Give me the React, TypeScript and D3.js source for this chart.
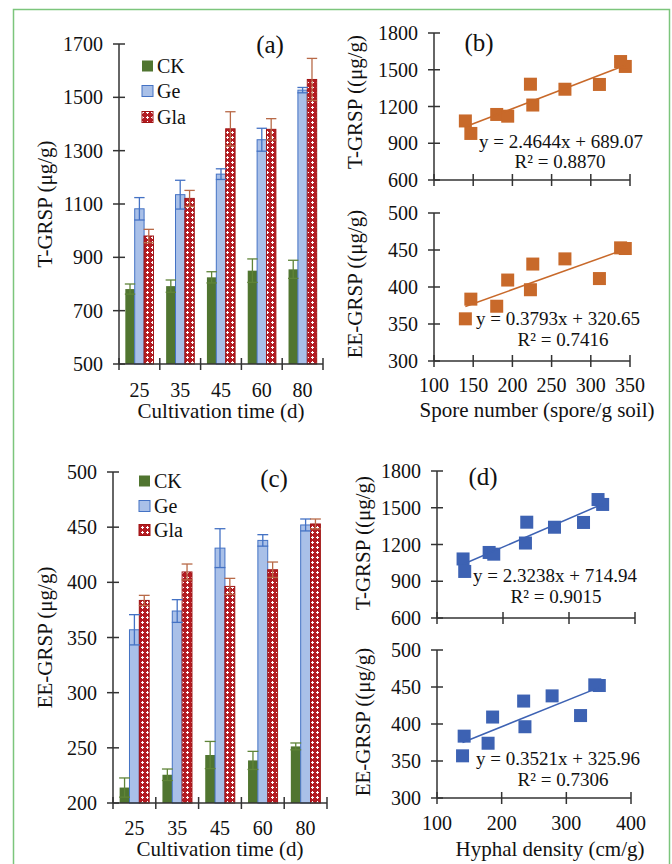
import React from 'react';
import * as d3 from 'd3';

// cultivation days and treatments
const days = ['25', '35', '45', '60', '80'];
const treatments = ['CK', 'Ge', 'Gla'];

// T-GRSP (ug/g) bars + error
const tCK = [781, 792, 825, 850, 855];
const tCKErr = [19, 23, 21, 44, 34];
const tGe = [1082, 1135, 1212, 1341, 1527];
const tGeErr = [42, 54, 20, 43, 10];
const tGla = [980, 1121, 1382, 1380, 1567];
const tGlaErr = [25, 30, 64, 40, 79];

// EE-GRSP (ug/g) bars + error
const eCK = [214, 225.6, 243.5, 238.6, 251.3];
const eCKErr = [8.7, 5.2, 12.3, 8.2, 3.1];
const eGe = [357, 374, 431, 438, 452];
const eGeErr = [13.7, 10.3, 17.6, 5.2, 5.4];
const eGla = [383.6, 409.4, 396.3, 411.4, 452.9];
const eGlaErr = [4.6, 7.2, 7.3, 7, 4.5];

// x values of the scatter points (Ge and Gla per day)
const sporeGe = [140, 180, 226, 267, 344];
const sporeGla = [147, 194, 223, 311, 338];
const hyphaGe = [139.5, 179, 234, 278, 351];
const hyphaGla = [142, 186, 236, 322, 344];

// tick labels
const tTicksBar = [500, 700, 900, 1100, 1300, 1500, 1700];
const eTicksBar = [200, 250, 300, 350, 400, 450, 500];
const tTicksSc = [600, 900, 1200, 1500, 1800];
const eTicksSc = [300, 350, 400, 450, 500];
const sporeTicks = [100, 150, 200, 250, 300, 350];
const hyphaTicks = [100, 200, 300, 400];

// regression fits
const fitSporeT = { a: 2.4644, b: 689.07, eq: 'y = 2.4644x + 689.07', r2: 'R² = 0.8870' };
const fitSporeE = { a: 0.3793, b: 320.65, eq: 'y = 0.3793x + 320.65', r2: 'R² = 0.7416' };
const fitHyphaT = { a: 2.3238, b: 714.94, eq: 'y = 2.3238x + 714.94', r2: 'R² = 0.9015' };
const fitHyphaE = { a: 0.3521, b: 325.96, eq: 'y = 0.3521x + 325.96', r2: 'R² = 0.7306' };

const FONT = '"Liberation Serif", "Times New Roman", serif';
const AX = '#333';
const fills = ['#507530', '#a9c0e8', 'url(#glaPat)'];
const strokes = ['#507530', '#4472c4', '#a01414'];
const errColors = ['#5f8438', '#4472c4', '#b86a48'];

function BarPanel({ x0, x1, yTop, yBot, domain, ticks, vals, errs, yLabel, yLabelX, panel, panelPos, legendX, legendY, tickY, titleY }) {
  const x = d3.scaleBand().domain(days).range([x0, x1]).paddingInner(0.31).paddingOuter(0.155);
  const xs = d3.scaleBand().domain(treatments).range([0, x.bandwidth()]);
  const y = d3.scaleLinear().domain(domain).range([yBot, yTop]);
  const step = x.step();
  return (
    <g fontFamily={FONT} fill="#111">
      {treatments.map((t, si) =>
        days.map((d, di) => {
          const bx = x(d)! + xs(t)!;
          const v = vals[si][di];
          return (
            <rect key={t + d} x={bx} y={y(v)} width={xs.bandwidth()} height={yBot - y(v)}
              fill={fills[si]} stroke={strokes[si]} strokeWidth={si === 0 ? 0 : 1} />
          );
        })
      )}
      {treatments.map((t, si) =>
        days.map((d, di) => {
          const cx = x(d)! + xs(t)! + xs.bandwidth() / 2;
          const v = vals[si][di], e = errs[si][di];
          const hw = xs.bandwidth() / 2 + 0.5;
          return (
            <g key={'e' + t + d} stroke={errColors[si]} strokeWidth={1.3}>
              <line x1={cx} x2={cx} y1={y(v - e)} y2={y(v + e)} />
              <line x1={cx - hw} x2={cx + hw} y1={y(v + e)} y2={y(v + e)} />
              <line x1={cx - hw} x2={cx + hw} y1={y(v - e)} y2={y(v - e)} />
            </g>
          );
        })
      )}
      <line x1={x0} x2={x0} y1={yTop} y2={yBot} stroke={AX} strokeWidth={1.5} />
      <line x1={x0} x2={x1} y1={yBot} y2={yBot} stroke={AX} strokeWidth={1.5} />
      {ticks.map(tk => (
        <g key={tk}>
          <line x1={x0 - 6} x2={x0 + 6} y1={y(tk)} y2={y(tk)} stroke={AX} strokeWidth={1.5} />
          <text x={x0 - 16} y={y(tk) + 7} textAnchor="end" fontSize={20}>{tk}</text>
        </g>
      ))}
      {d3.range(days.length + 1).map(i => (
        <line key={i} x1={x0 + i * step} x2={x0 + i * step} y1={yBot - 6} y2={yBot + 6} stroke={AX} strokeWidth={1.5} />
      ))}
      {days.map(d => (
        <text key={d} x={x(d)! + x.bandwidth() / 2} y={tickY} textAnchor="middle" fontSize={20}>{d}</text>
      ))}
      <text x={(x0 + x1) / 2} y={titleY} textAnchor="middle" fontSize={21}>Cultivation time (d)</text>
      <text transform={`translate(${yLabelX},${(yTop + yBot) / 2}) rotate(-90)`} textAnchor="middle" dominantBaseline="central" fontSize={21}>{yLabel}</text>
      <text x={panelPos[0]} y={panelPos[1]} textAnchor="middle" fontSize={25}>{panel}</text>
      {treatments.map((t, si) => (
        <g key={'lg' + t}>
          <rect x={legendX} y={legendY[si] - 5.5} width={11} height={11} fill={fills[si]} stroke={strokes[si]} strokeWidth={si === 0 ? 0 : 1} />
          <text x={legendX + 15} y={legendY[si] + 7} fontSize={20}>{t}</text>
        </g>
      ))}
    </g>
  );
}

function ScatterPanel({ x0, x1, yTop, yBot, xDomain, xTicks, domain, ticks, xsArr, ysArr, fit, color, yLabel, yLabelX, yLabelY, eqPos, r2Pos, showX, tickY }) {
  const x = d3.scaleLinear().domain(xDomain).range([x0, x1]);
  const y = d3.scaleLinear().domain(domain).range([yBot, yTop]);
  const pts = xsArr.flatMap((arr, k) => arr.map((xv, i) => [xv, ysArr[k][i]]));
  const [mn, mx] = d3.extent(pts, p => p[0]) as [number, number];
  const line = d3.line<number>().x(v => x(v)).y(v => y(fit.a * v + fit.b));
  return (
    <g fontFamily={FONT} fill="#111">
      <line x1={x0} x2={x0} y1={yTop} y2={yBot} stroke={AX} strokeWidth={1.5} />
      <line x1={x0} x2={x1} y1={yBot} y2={yBot} stroke={AX} strokeWidth={1.5} />
      {ticks.map(tk => (
        <g key={tk}>
          <line x1={x0 - 6} x2={x0 + 6} y1={y(tk)} y2={y(tk)} stroke={AX} strokeWidth={1.5} />
          <text x={x0 - 16} y={y(tk) + 7} textAnchor="end" fontSize={20}>{tk}</text>
        </g>
      ))}
      {xTicks.map(tk => (
        <g key={'x' + tk}>
          <line x1={x(tk)} x2={x(tk)} y1={yBot - 6} y2={yBot + 6} stroke={AX} strokeWidth={1.5} />
          {showX && <text x={x(tk)} y={tickY} textAnchor="middle" fontSize={20}>{tk}</text>}
        </g>
      ))}
      {pts.map((p, i) => (
        <rect key={i} x={x(p[0]) - 6.5} y={y(p[1]) - 6.5} width={13} height={13} fill={color} />
      ))}
      <path d={line([mn, mx]) || ''} fill="none" stroke={color} strokeWidth={1.5} />
      <text x={eqPos[0]} y={eqPos[1]} textAnchor="middle" fontSize={19}>{fit.eq}</text>
      <text x={r2Pos[0]} y={r2Pos[1]} textAnchor="middle" fontSize={19}>{fit.r2}</text>
      <text transform={`translate(${yLabelX},${yLabelY})) rotate(-90)`.replace('))', ')')} textAnchor="middle" dominantBaseline="central" fontSize={21}>{yLabel}</text>
    </g>
  );
}

export default function App() {
  return (
    <svg width={672} height={864} style={{ position: 'absolute', left: 0, top: 0, background: '#fff' }}>
      <defs>
        <pattern id="glaPat" patternUnits="userSpaceOnUse" width={5} height={5}>
          <rect width={5} height={5} fill="#b31b22" />
          <rect x={2} y={1} width={1} height={3} fill="#fff" />
          <rect x={1} y={2} width={3} height={1} fill="#fff" />
        </pattern>
      </defs>
      <rect x={0} y={0} width={672} height={864} fill="#fff" />
      <path d="M13.5,870 V9.5 H669.5 V870" fill="none" stroke="#7cc57c" strokeWidth={1.5} />

      <BarPanel x0={119} x1={323} yTop={44} yBot={364} domain={[500, 1700]} ticks={tTicksBar}
        vals={[tCK, tGe, tGla]} errs={[tCKErr, tGeErr, tGlaErr]} yLabel="T-GRSP (μg/g)" yLabelX={45}
        panel="(a)" panelPos={[270, 53]} legendX={142} legendY={[66, 91, 117]} tickY={397} titleY={418} />

      <BarPanel x0={113} x1={327} yTop={472} yBot={803} domain={[200, 500]} ticks={eTicksBar}
        vals={[eCK, eGe, eGla]} errs={[eCKErr, eGeErr, eGlaErr]} yLabel="EE-GRSP (μg/g)" yLabelX={45}
        panel="(c)" panelPos={[274, 487]} legendX={139} legendY={[481, 506, 530]} tickY={835} titleY={856} />

      <ScatterPanel x0={434} x1={630} yTop={33} yBot={180} xDomain={[100, 350]} xTicks={sporeTicks}
        domain={[600, 1800]} ticks={tTicksSc} xsArr={[sporeGe, sporeGla]} ysArr={[tGe, tGla]} fit={fitSporeT}
        color="#c8692a" yLabel="T-GRSP ((μg/g)" yLabelX={355} yLabelY={102} eqPos={[561, 148]} r2Pos={[560, 168]} showX={false} tickY={0} />
      <ScatterPanel x0={434} x1={630} yTop={213} yBot={361} xDomain={[100, 350]} xTicks={sporeTicks}
        domain={[300, 500]} ticks={eTicksSc} xsArr={[sporeGe, sporeGla]} ysArr={[eGe, eGla]} fit={fitSporeE}
        color="#c8692a" yLabel="EE-GRSP ((μg/g)" yLabelX={355} yLabelY={284} eqPos={[558, 325]} r2Pos={[563, 346]} showX={true} tickY={392} />
      <text x={537} y={417} textAnchor="middle" fontSize={21} fontFamily={FONT} fill="#111">Spore number (spore/g soil)</text>
      <text x={479} y={51} textAnchor="middle" fontSize={25} fontFamily={FONT} fill="#111">(b)</text>

      <ScatterPanel x0={437} x1={635} yTop={471} yBot={618} xDomain={[100, 400]} xTicks={hyphaTicks}
        domain={[600, 1800]} ticks={tTicksSc} xsArr={[hyphaGe, hyphaGla]} ysArr={[tGe, tGla]} fit={fitHyphaT}
        color="#3d62b3" yLabel="T-GRSP ((μg/g)" yLabelX={363} yLabelY={543} eqPos={[555, 582]} r2Pos={[556, 603]} showX={false} tickY={0} />
      <ScatterPanel x0={437} x1={631} yTop={650} yBot={798} xDomain={[100, 400]} xTicks={hyphaTicks}
        domain={[300, 500]} ticks={eTicksSc} xsArr={[hyphaGe, hyphaGla]} ysArr={[eGe, eGla]} fit={fitHyphaE}
        color="#3d62b3" yLabel="EE-GRSP ((μg/g)" yLabelX={363} yLabelY={722} eqPos={[558, 765]} r2Pos={[563, 786]} showX={true} tickY={830} />
      <text x={550} y={856} textAnchor="middle" fontSize={21} fontFamily={FONT} fill="#111">Hyphal density (cm/g)</text>
      <text x={483} y={485} textAnchor="middle" fontSize={25} fontFamily={FONT} fill="#111">(d)</text>
    </svg>
  );
}
